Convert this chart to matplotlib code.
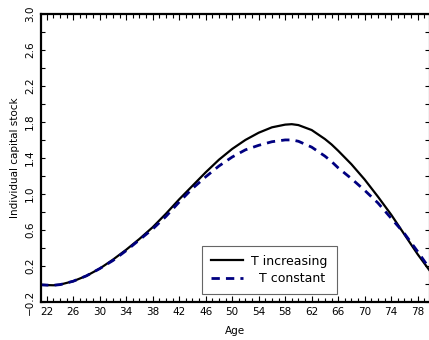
import numpy as np
import matplotlib
matplotlib.use("Agg")
import matplotlib.pyplot as plt
from matplotlib.ticker import FixedLocator, MultipleLocator

# ages and capital stock
ages = [21, 22, 23, 24, 26, 28, 30, 32, 34, 36, 38, 40, 42, 44, 46, 48, 50,
        52, 54, 56, 58, 59, 60, 62, 64, 65, 66, 68, 70, 72, 74, 76, 78, 80]
k_increasing = [-0.01, -0.013, -0.015, -0.008, 0.03, 0.09, 0.17, 0.27, 0.38,
                0.50, 0.63, 0.78, 0.94, 1.09, 1.24, 1.38, 1.50, 1.60, 1.68,
                1.74, 1.77, 1.775, 1.765, 1.71, 1.61, 1.55, 1.48, 1.33, 1.16,
                0.97, 0.77, 0.55, 0.33, 0.13]
k_constant = [-0.01, -0.013, -0.015, -0.008, 0.03, 0.09, 0.17, 0.26, 0.37,
              0.49, 0.61, 0.75, 0.91, 1.06, 1.19, 1.31, 1.41, 1.49, 1.54,
              1.58, 1.60, 1.60, 1.585, 1.52, 1.42, 1.36, 1.29, 1.17, 1.04,
              0.90, 0.73, 0.56, 0.36, 0.15]

x_major = np.arange(22, 79, 4)
y_labels = np.arange(-0.2, 3.01, 0.4)
y_minor = np.arange(0.0, 2.81, 0.4)

fig = plt.figure(figsize=(4.29, 3.40), dpi=100)
ax = fig.add_axes([0.095, 0.112, 0.904, 0.847])

ax.plot(ages, k_increasing, color="black", lw=1.6, label="T increasing")
ax.plot(ages, k_constant, color="#000080", lw=2.0, ls=(0, (3, 2.2)),
        label="  T constant")

ax.set_xlim(21.1, 79.65)
ax.set_ylim(-0.2, 3.0)

ax.xaxis.set_major_locator(FixedLocator(x_major))
ax.xaxis.set_minor_locator(MultipleLocator(1))
ax.yaxis.set_major_locator(FixedLocator(y_labels))
ax.yaxis.set_minor_locator(FixedLocator(y_minor))
ax.set_yticklabels([f"{v:.1f}".replace("-", "\u2212") for v in y_labels],
                   rotation=90, va="center")

ax.tick_params(which="both", direction="in", top=True, right=True,
               labelsize=7.5, width=0.8)
ax.tick_params(which="major", length=4, pad=4)
ax.tick_params(which="minor", length=3)
ax.tick_params(axis="y", which="major", length=3)

for side in ["left", "bottom", "top"]:
    ax.spines[side].set_linewidth(1.6)
ax.spines["right"].set_linewidth(0.8)

ax.set_xlabel("Age", fontsize=7.5, labelpad=6)
ax.set_ylabel("Individual capital stock", fontsize=7.5, labelpad=4)

leg = ax.legend(loc="lower left", bbox_to_anchor=(0.416, 0.028, 0.348, 0.177),
                mode="expand", fontsize=9, frameon=True, fancybox=False,
                edgecolor="#666666", framealpha=1, handlelength=2.6,
                handletextpad=0.6, borderaxespad=0, borderpad=0.7,
                labelspacing=0.35)
leg.get_frame().set_linewidth(0.8)

fig.savefig("out.png", dpi=100)
